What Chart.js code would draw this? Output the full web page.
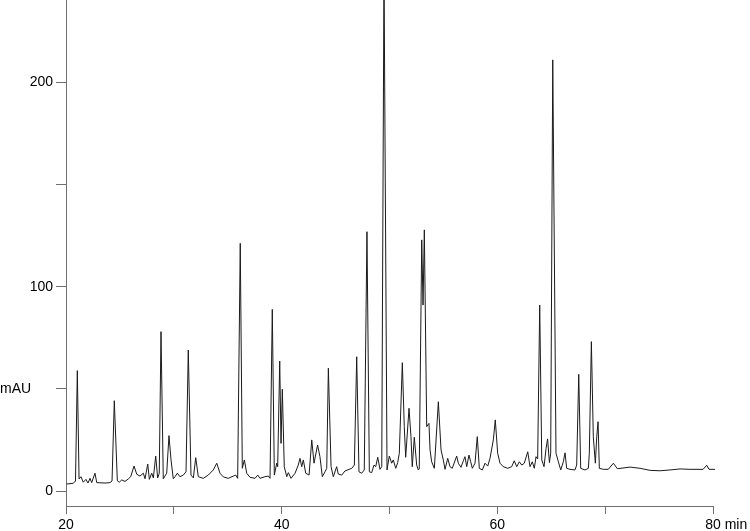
<!DOCTYPE html>
<html>
<head>
<meta charset="utf-8">
<title>Chromatogram</title>
<script src="https://cdn.jsdelivr.net/npm/chart.js@4.4.1/dist/chart.umd.min.js"></script>
<style>
  html, body { margin: 0; padding: 0; background: #fff; }
  canvas { display: block; }
</style>
</head>
<body>
<canvas id="myChart" width="750" height="531"></canvas>
<script>
'use strict';

// DATA (retention time in min, absorbance in mAU)

let retentionTimes = [
  20.06, 20.68, 20.88, 21.05, 21.21, 21.39, 21.60, 21.85, 22.04, 22.23,
  22.38, 22.69, 22.85, 23.62, 24.08, 24.27, 24.48, 24.76, 24.94, 25.17,
  25.47, 25.78, 26.00, 26.31, 26.56, 26.86, 27.17, 27.33, 27.58, 27.73,
  27.95, 28.10, 28.32, 28.50, 28.65, 28.81, 29.02, 29.34, 29.55, 29.74,
  29.95, 30.11, 30.32, 30.57, 30.88, 31.13, 31.34, 31.59, 31.81, 32.03,
  32.27, 32.73, 33.20, 33.66, 33.98, 34.28, 34.59, 35.05, 35.52, 35.74,
  35.92, 36.16, 36.35, 36.54, 36.76, 37.06, 37.53, 37.78, 37.99, 38.45,
  38.76, 38.92, 39.13, 39.32, 39.54, 39.63, 39.82, 39.94, 40.06, 40.24,
  40.47, 40.62, 40.87, 41.24, 41.54, 41.70, 41.86, 42.01, 42.23, 42.54,
  42.79, 43.00, 43.33, 43.55, 43.77, 44.02, 44.18, 44.33, 44.58, 44.79,
  45.10, 45.25, 45.57, 45.87, 46.50, 46.74, 46.96, 47.17, 47.42, 47.66,
  47.91, 48.13, 48.35, 48.56, 48.72, 48.91, 49.12, 49.28, 49.49, 49.77,
  49.98, 50.20, 50.35, 50.58, 50.76, 50.91, 51.19, 51.37, 51.50, 51.81,
  51.99, 52.11, 52.30, 52.52, 52.67, 52.76, 52.99, 53.11, 53.23, 53.45,
  53.66, 53.76, 53.91, 54.16, 54.53, 54.78, 54.99, 55.15, 55.40, 55.61,
  55.82, 56.23, 56.38, 56.63, 56.85, 57.00, 57.16, 57.37, 57.53, 57.68,
  57.93, 58.14, 58.33, 58.61, 58.86, 59.11, 59.32, 59.63, 59.81, 60.03,
  60.25, 60.55, 60.96, 61.33, 61.57, 61.80, 62.04, 62.26, 62.50, 62.82,
  63.03, 63.24, 63.43, 63.59, 63.74, 63.93, 64.12, 64.33, 64.52, 64.66,
  64.83, 64.95, 65.14, 65.44, 65.66, 65.88, 66.12, 66.28, 66.43, 66.74,
  67.20, 67.36, 67.55, 67.73, 68.13, 68.44, 68.53, 68.72, 68.90, 69.09,
  69.22, 69.34, 69.46, 69.83, 70.29, 70.76, 71.13, 72.31, 73.24, 74.17,
  75.09, 76.02, 76.95, 77.87, 79.08, 79.42, 79.63, 80.19
];

let absorbance = [
  3.4, 3.8, 4.9, 58.9, 5.9, 7.0, 4.3, 5.7, 3.9, 6.2,
  4.1, 8.7, 4.1, 3.9, 4.1, 4.9, 44.2, 5.0, 4.3, 5.4,
  4.7, 5.9, 7.0, 12.2, 8.2, 7.3, 8.7, 6.0, 13.2, 5.7,
  8.7, 6.4, 17.1, 6.4, 8.7, 78.0, 6.0, 8.7, 27.1, 15.2,
  6.0, 7.0, 8.7, 7.0, 7.8, 9.4, 69.0, 7.8, 6.4, 16.3,
  7.0, 6.2, 7.8, 10.3, 13.6, 8.7, 6.9, 6.2, 7.3, 7.8,
  6.2, 121.2, 11.1, 15.2, 8.7, 6.7, 6.2, 7.8, 6.2, 7.0,
  7.3, 6.2, 88.9, 7.8, 13.6, 11.9, 63.6, 23.3, 49.8, 11.9,
  7.0, 9.0, 6.2, 8.7, 12.7, 16.0, 11.9, 15.2, 8.7, 7.8,
  25.0, 13.6, 22.5, 16.8, 7.0, 9.4, 11.1, 60.1, 11.9, 7.0,
  11.9, 8.3, 7.8, 9.8, 11.1, 12.7, 65.7, 9.4, 8.7, 10.3,
  126.9, 9.4, 9.0, 12.7, 11.9, 16.5, 10.6, 11.9, 255, 10.3,
  17.1, 13.6, 15.2, 11.1, 13.9, 18.5, 62.8, 31.5, 16.5, 40.5,
  26.6, 11.9, 26.3, 12.7, 10.3, 10.8, 122.9, 91.0, 127.8, 31.5,
  33.1, 20.1, 14.3, 11.1, 43.7, 20.1, 15.2, 10.6, 16.0, 11.9,
  11.1, 17.1, 13.6, 11.6, 14.8, 16.8, 11.9, 17.6, 14.3, 11.1,
  13.6, 26.6, 11.1, 10.3, 13.6, 12.2, 16.0, 25.0, 34.8, 18.5,
  13.6, 11.9, 11.1, 11.9, 14.8, 11.9, 14.3, 12.7, 13.6, 19.2,
  11.9, 14.3, 11.1, 16.8, 15.7, 91.0, 15.2, 11.9, 20.9, 25.5,
  13.9, 18.5, 211, 18.5, 14.3, 10.3, 14.3, 18.7, 11.1, 10.6,
  10.3, 12.7, 57.1, 11.1, 10.3, 11.1, 18.5, 73.1, 26.6, 13.6,
  26.6, 33.9, 11.1, 10.6, 10.6, 13.6, 10.9, 11.7, 11.1, 10.1,
  9.9, 10.3, 10.8, 10.6, 10.6, 12.6, 10.6, 10.6
];

// AXIS TICKS

let xTickValues = [20, 30, 40, 50, 60, 70, 80];
let xTickLabels = ['20', '', '40', '', '60', '', '80'];
let xUnitLabel = 'min';

let yTickValues = [0, 50, 100, 150, 200];
let yTickLabels = ['0', '', '100', '', '200'];
let yUnitLabel = 'mAU';

let fontFamily = '"Liberation Sans", Arial, Helvetica, sans-serif';
let axisColor = '#707070';

// build the {x, y} points for the line
let points = [];
for (let i = 0; i < retentionTimes.length; i++) {
  points.push({ x: retentionTimes[i], y: absorbance[i] });
}

// plugin to write the unit names next to the axes
const unitLabels = {
  id: 'unitLabels',
  afterDraw(chart) {
    let ctx = chart.ctx;
    let xScale = chart.scales.x;
    let yScale = chart.scales.y;
    ctx.save();
    ctx.font = '14px ' + fontFamily;
    ctx.fillStyle = '#000';
    ctx.textBaseline = 'middle';
    ctx.textAlign = 'left';
    // mAU sits at the unlabeled 50 tick
    ctx.fillText(yUnitLabel, 0, yScale.getPixelForValue(50));
    // min follows the last x label
    let lastX = xScale.getPixelForValue(xTickValues[xTickValues.length - 1]);
    let lastLabel = xTickLabels[xTickLabels.length - 1];
    let textX = lastX + ctx.measureText(lastLabel).width / 2 + ctx.measureText(' ').width;
    ctx.fillText(xUnitLabel, textX, chart.chartArea.bottom + 8 + 3 + 8.4);
    ctx.restore();
  }
};

const data = {
  datasets: [
    {
      label: 'Absorbance',
      data: points,
      borderColor: '#1a1a1a',
      borderWidth: 1,
      pointRadius: 0,
      tension: 0,
      fill: false,
      clip: false
    }
  ]
};

const config = {
  type: 'line',
  data: data,
  options: {
    responsive: false,
    animation: false,
    layout: {
      padding: { left: 0, right: 37, top: 0, bottom: 0 }
    },
    plugins: {
      legend: { display: false },
      tooltip: { enabled: false }
    },
    scales: {
      x: {
        type: 'linear',
        min: 20,
        max: 80,
        afterBuildTicks: function(axis) {
          axis.ticks = xTickValues.map(v => ({ value: v }));
        },
        afterFit: function(scale) {
          scale.height = 25;
          scale.paddingLeft = 0;
          scale.paddingRight = 0;
        },
        border: { display: true, color: axisColor, width: 1 },
        grid: {
          drawOnChartArea: false,
          drawTicks: true,
          tickLength: 8,
          color: axisColor,
          lineWidth: 1
        },
        ticks: {
          autoSkip: false,
          maxRotation: 0,
          padding: 3,
          color: '#000',
          font: { family: fontFamily, size: 14 },
          callback: function(value) {
            let idx = xTickValues.indexOf(value);
            return idx >= 0 ? xTickLabels[idx] : '';
          }
        }
      },
      y: {
        type: 'linear',
        min: -7.34,
        max: 240.3,
        afterBuildTicks: function(axis) {
          axis.ticks = yTickValues.map(v => ({ value: v }));
        },
        afterFit: function(scale) {
          scale.width = 66;
          scale.paddingTop = 0;
          scale.paddingBottom = 0;
        },
        border: { display: true, color: axisColor, width: 1 },
        grid: {
          drawOnChartArea: false,
          drawTicks: true,
          tickLength: 10,
          color: axisColor,
          lineWidth: 1
        },
        ticks: {
          autoSkip: false,
          padding: 3,
          color: '#000',
          font: { family: fontFamily, size: 14 },
          callback: function(value) {
            let idx = yTickValues.indexOf(value);
            return idx >= 0 ? yTickLabels[idx] : '';
          }
        }
      }
    }
  },
  plugins: [unitLabels]
};

let canvas = document.getElementById('myChart').getContext('2d');
new Chart(canvas, config);
</script>
</body>
</html>
